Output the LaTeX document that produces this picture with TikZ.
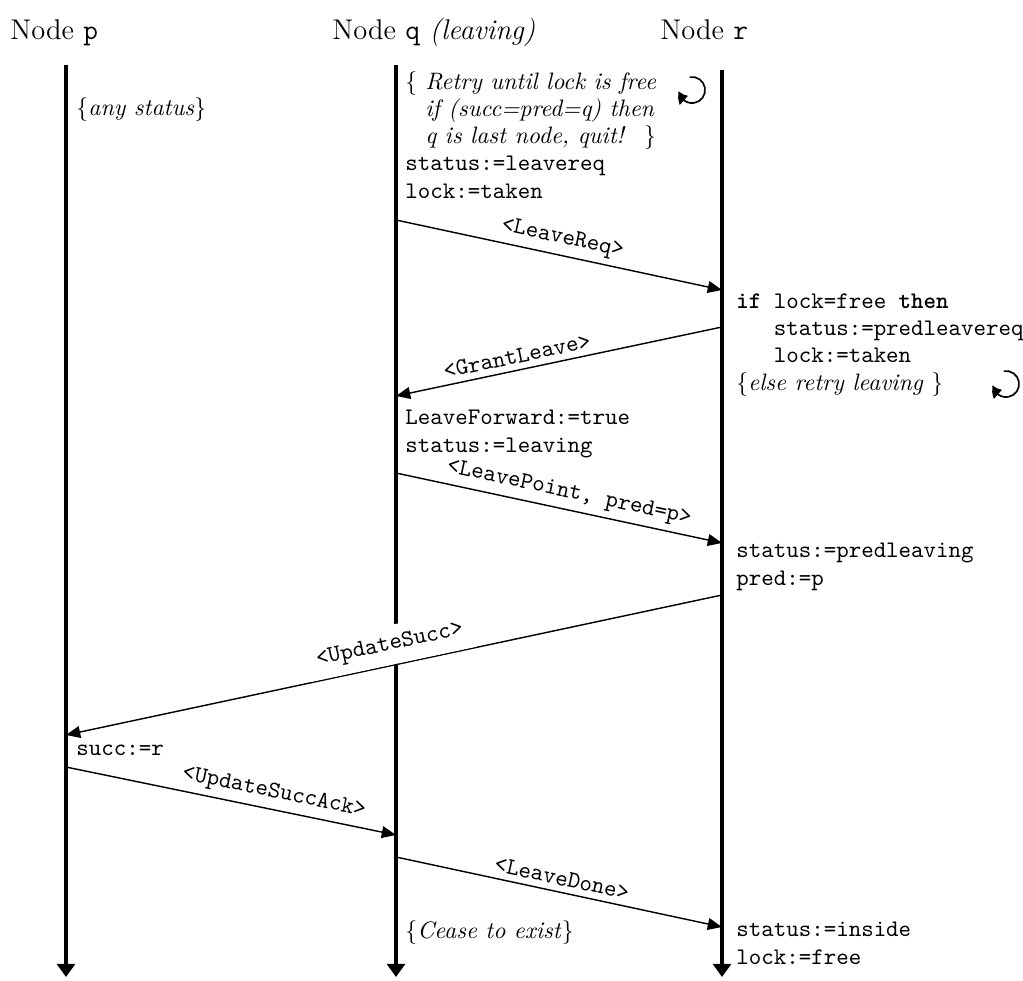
\documentclass[tikz,border=0pt]{standalone}
\usepackage{tikz}
\usetikzlibrary{arrows.meta, positioning, calc, bending}

\begin{document}
\begin{tikzpicture}[
    x=0.01478cm, y=-0.01478cm,
    every node/.style={inner sep=0pt},
    lifeline/.style={line width=1.5pt, -{Triangle[length=5.5pt, width=7.5pt]}},
    msg/.style={line width=0.6pt, -{Triangle[length=6pt, width=5pt]}},
    msglabel/.style={font=\ttfamily, sloped, above, inner sep=2.5pt},
    title/.style={anchor=base west, font=\large},
    note/.style={anchor=base west, align=left, font=\fontsize{10}{11.4}\selectfont},
    retry/.style={line width=0.7pt, -{Triangle[length=4.5pt, width=5pt, bend]}},
]
\useasboundingbox (0,0) rectangle (1023,980);

% Titles
\node[title] (ptitle) at (10,40) {Node \texttt{p}};
\node[title] (qtitle) at (332,40) {Node \texttt{q} \textit{(leaving)}};
\node[title] (rtitle) at (660,40) {Node \texttt{r}};

% Lifelines
\coordinate (ptop) at (66,65);
\coordinate (pbot) at (66,977);
\coordinate (qtop) at (396,65);
\coordinate (qbot) at (396,977);
\coordinate (rtop) at (722,70);
\coordinate (rbot) at (722,977);
\draw[lifeline] (ptop) -- (pbot);
\draw[lifeline] (qtop) -- (qbot);
\draw[lifeline] (rtop) -- (rbot);

% Node p (base = last line)
\node[note] (pany) at (76,115) {\{\textit{any status}\}};
\node[note] (psucc) at (76,755) {\texttt{succ:=r}};

% Node q
\node[note] (qretry) at (405,198) {\{ \textit{Retry until lock is free}\\
  \phantom{\{} \textit{if (succ=pred=q) then}\\
  \phantom{\{} \textit{q is last node, quit!} \ \}\\
  \texttt{status:=leavereq}\\
  \texttt{lock:=taken}};
\node[note] (qfwd) at (405,452) {\texttt{LeaveForward:=true}\\
  \texttt{status:=leaving}};
\node[note] (qcease) at (405,938) {\{\textit{Cease to exist}\}};

% Node r
\node[note] (rif) at (736,390) {\texttt{\textbf{if} lock=free \textbf{then}}\\
  \hspace*{15.75pt}\texttt{status:=predleavereq}\\
  \hspace*{15.75pt}\texttt{lock:=taken}\\
  \{\textit{else retry leaving} \}};
\node[note] (rpred) at (736,585) {\texttt{status:=predleaving}\\
  \texttt{pred:=p}};
\node[note] (rinside) at (736,964) {\texttt{status:=inside}\\
  \texttt{lock:=free}};

% Retry loops
\coordinate (qloop) at (692,90);
\coordinate (rloop) at (1006,384);
\draw[retry] (qloop) ++(100:5.5pt) arc[start angle=100, end angle=-175, radius=5.5pt];
\draw[retry] (rloop) ++(100:5.5pt) arc[start angle=100, end angle=-175, radius=5.5pt];

% Messages
\coordinate (m1a) at (396,220);  \coordinate (m1b) at (722,290);
\coordinate (m2a) at (722,327);  \coordinate (m2b) at (396,396);
\coordinate (m3a) at (396,473);  \coordinate (m3b) at (722,543);
\coordinate (m4a) at (722,595);  \coordinate (m4b) at (66,735);
\coordinate (m5a) at (66,767);   \coordinate (m5b) at (396,835);
\coordinate (m6a) at (396,857);  \coordinate (m6b) at (722,927);

\draw[msg] (m1a) -- node[msglabel] (lreq) {<LeaveReq>} (m1b);
\draw[msg] (m2a) -- node[msglabel, pos=0.62] (grant) {<GrantLeave>} (m2b);
\draw[msg] (m3a) -- node[msglabel, pos=0.52] (lpoint) {<LeavePoint, pred=p>} (m3b);
\draw[msg] (m4a) -- node[msglabel, fill=white, inner sep=4pt] (usucc) {<UpdateSucc>} (m4b);
\draw[msg] (m5a) -- node[msglabel, pos=0.62] (uack) {<UpdateSuccAck>} (m5b);
\draw[msg] (m6a) -- node[msglabel] (ldone) {<LeaveDone>} (m6b);

\end{tikzpicture}
\end{document}
